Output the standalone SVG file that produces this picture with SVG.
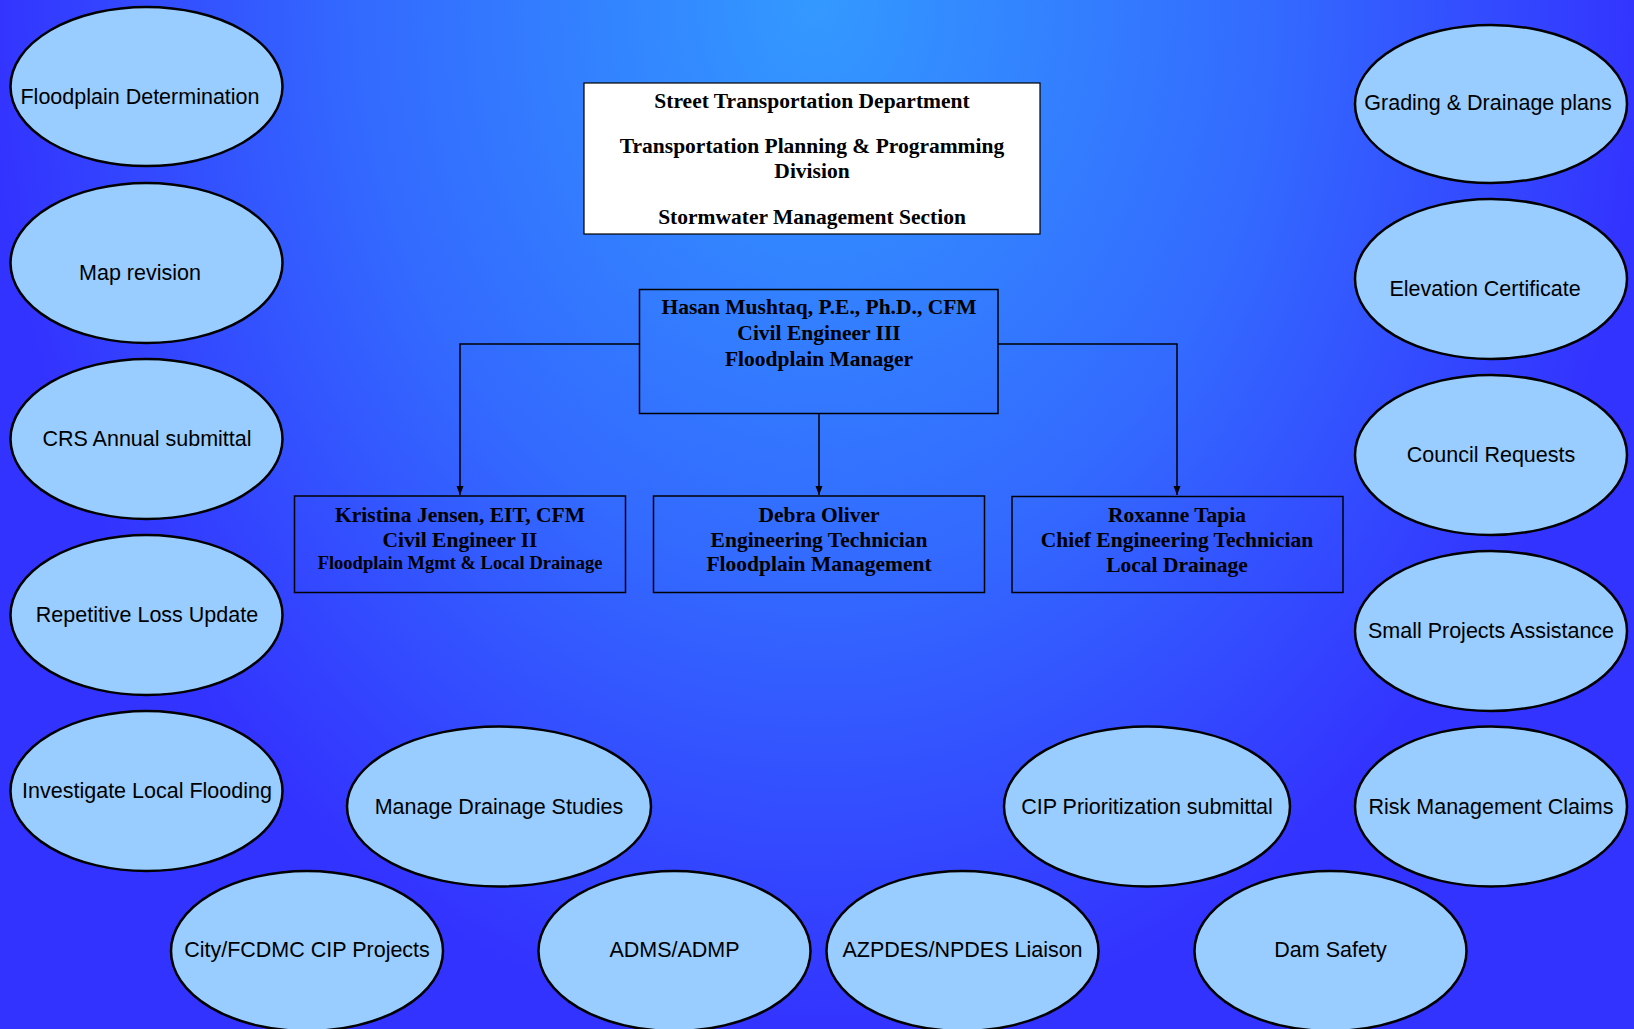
<svg xmlns="http://www.w3.org/2000/svg" width="1634" height="1029" viewBox="0 0 1634 1029">
<defs>
<radialGradient id="bg" gradientUnits="userSpaceOnUse" cx="817" cy="0" r="830" gradientTransform="translate(817 0) scale(1 1.25) translate(-817 0)">
<stop offset="0" stop-color="#3399FF"/>
<stop offset="0.55" stop-color="#336AFF"/>
<stop offset="1" stop-color="#3333FF"/>
</radialGradient>
<marker id="arr" markerWidth="10" markerHeight="10" refX="9" refY="3.5" orient="auto" markerUnits="userSpaceOnUse">
<path d="M0,0 L9,3.5 L0,7 Z" fill="#000"/>
</marker>
</defs>
<style>
.el{fill:#99CCFF;stroke:#000;stroke-width:2.5}
.et{font-family:"Liberation Sans",Arial,sans-serif;font-size:21.5px;fill:#000;text-anchor:middle;dominant-baseline:central}
.box{fill:none;stroke:#000;stroke-width:1.5}
.bt{font-family:"Liberation Serif","Times New Roman",serif;font-weight:bold;font-size:21.5px;fill:#000;text-anchor:middle}
.sm{font-size:18.5px}
.con{fill:none;stroke:#000;stroke-width:1.5}
</style>
<rect x="0" y="0" width="1634" height="1029" fill="url(#bg)"/>

<g id="title">
<rect x="584" y="83" width="456" height="151" fill="#fff" stroke="#000" stroke-width="1.2"/>
<text class="bt" x="812" y="108">Street Transportation Department</text>
<text class="bt" x="812" y="153">Transportation Planning &amp; Programming</text>
<text class="bt" x="812" y="178">Division</text>
<text class="bt" x="812" y="224">Stormwater Management Section</text>
</g>

<g id="connectors">
<polyline class="con" points="639,344 460,344 460,495" marker-end="url(#arr)"/>
<polyline class="con" points="819,413 819,495" marker-end="url(#arr)"/>
<polyline class="con" points="998,344 1177,344 1177,495" marker-end="url(#arr)"/>
</g>

<g id="hasan">
<rect class="box" x="639.5" y="289.5" width="358.5" height="124"/>
<text class="bt" x="819" y="314">Hasan Mushtaq, P.E., Ph.D., CFM</text>
<text class="bt" x="819" y="340">Civil Engineer III</text>
<text class="bt" x="819" y="366">Floodplain Manager</text>
</g>

<g id="kristina">
<rect class="box" x="294.5" y="496" width="331" height="96.5"/>
<text class="bt" x="460" y="522">Kristina Jensen, EIT, CFM</text>
<text class="bt" x="460" y="547">Civil Engineer II</text>
<text class="bt sm" x="460" y="569">Floodplain Mgmt &amp; Local Drainage</text>
</g>

<g id="debra">
<rect class="box" x="653.5" y="496" width="331" height="96.5"/>
<text class="bt" x="819" y="522">Debra Oliver</text>
<text class="bt" x="819" y="547">Engineering Technician</text>
<text class="bt" x="819" y="571">Floodplain Management</text>
</g>

<g id="roxanne">
<rect class="box" x="1012" y="496.5" width="331" height="96"/>
<text class="bt" x="1177" y="522">Roxanne Tapia</text>
<text class="bt" x="1177" y="547">Chief Engineering Technician</text>
<text class="bt" x="1177" y="572">Local Drainage</text>
</g>

<g id="floodplain-determination"><ellipse class="el" cx="146.5" cy="86.5" rx="136" ry="79.5"/><text class="et" x="140" y="97">Floodplain Determination</text></g>
<g id="map-revision"><ellipse class="el" cx="146.5" cy="263" rx="136" ry="80"/><text class="et" x="140" y="273">Map revision</text></g>
<g id="crs-annual"><ellipse class="el" cx="146.5" cy="439" rx="136" ry="80"/><text class="et" x="147" y="439">CRS Annual submittal</text></g>
<g id="repetitive-loss"><ellipse class="el" cx="146.5" cy="615" rx="136" ry="80"/><text class="et" x="147" y="615">Repetitive Loss Update</text></g>
<g id="investigate-flooding"><ellipse class="el" cx="146.5" cy="791" rx="136" ry="80"/><text class="et" x="147" y="791">Investigate Local Flooding</text></g>

<g id="grading-drainage"><ellipse class="el" cx="1491" cy="104" rx="136" ry="79"/><text class="et" x="1488" y="103">Grading &amp; Drainage plans</text></g>
<g id="elevation-certificate"><ellipse class="el" cx="1491" cy="279" rx="136" ry="80"/><text class="et" x="1485" y="289">Elevation Certificate</text></g>
<g id="council-requests"><ellipse class="el" cx="1491" cy="455" rx="136" ry="80"/><text class="et" x="1491" y="455">Council Requests</text></g>
<g id="small-projects"><ellipse class="el" cx="1491" cy="631" rx="136" ry="80"/><text class="et" x="1491" y="631">Small Projects Assistance</text></g>
<g id="risk-management"><ellipse class="el" cx="1491" cy="806.5" rx="136" ry="80"/><text class="et" x="1491" y="807">Risk Management Claims</text></g>

<g id="manage-drainage"><ellipse class="el" cx="499" cy="806.5" rx="152" ry="80"/><text class="et" x="499" y="807">Manage Drainage Studies</text></g>
<g id="cip-prioritization"><ellipse class="el" cx="1147" cy="806.5" rx="143" ry="80"/><text class="et" x="1147" y="807">CIP Prioritization submittal</text></g>

<g id="city-fcdmc"><ellipse class="el" cx="307" cy="951" rx="136" ry="80"/><text class="et" x="307" y="950">City/FCDMC CIP Projects</text></g>
<g id="adms-admp"><ellipse class="el" cx="674.5" cy="951" rx="136" ry="80"/><text class="et" x="674.5" y="950">ADMS/ADMP</text></g>
<g id="azpdes-npdes"><ellipse class="el" cx="962.5" cy="951" rx="136" ry="80"/><text class="et" x="962.5" y="950">AZPDES/NPDES Liaison</text></g>
<g id="dam-safety"><ellipse class="el" cx="1330.5" cy="951" rx="136" ry="80"/><text class="et" x="1330.5" y="950">Dam Safety</text></g>
</svg>
